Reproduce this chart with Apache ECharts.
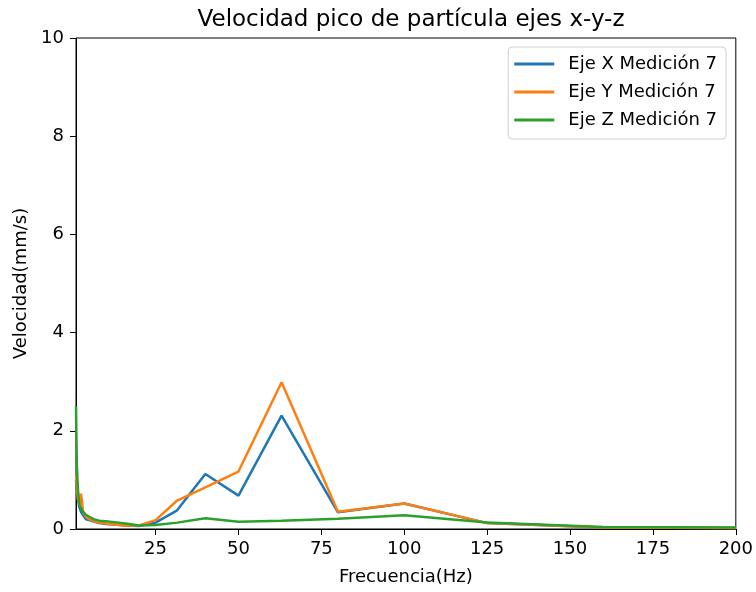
<!DOCTYPE html>
<html>
<head>
<meta charset="utf-8">
<script src="https://cdn.jsdelivr.net/npm/echarts@6/dist/echarts.min.js"></script>
<style>html,body{margin:0;padding:0;background:#fff}#c{width:756px;height:592px}</style>
</head>
<body>
<div id="c"></div>
<script>
var freqs = [1, 1.25, 1.6, 2, 2.5, 3.15, 4, 5, 6.3, 8, 10, 12.5, 16, 20, 25, 31.5, 40, 50, 63, 80, 100, 125, 160, 200];
var ejeX = [1.0, 0.85, 0.6, 0.45, 0.35, 0.28, 0.2, 0.18, 0.15, 0.12, 0.1, 0.09, 0.07, 0.06, 0.13, 0.38, 1.12, 0.68, 2.31, 0.34, 0.52, 0.12, 0.03, 0.02];
var ejeY = [1.1, 0.9, 0.6, 0.5, 0.72, 0.35, 0.25, 0.2, 0.16, 0.13, 0.11, 0.09, 0.07, 0.07, 0.18, 0.58, 0.85, 1.17, 2.99, 0.35, 0.52, 0.12, 0.03, 0.02];
var ejeZ = [2.5, 1.3, 0.8, 0.5, 0.42, 0.35, 0.29, 0.25, 0.2, 0.17, 0.16, 0.14, 0.11, 0.07, 0.08, 0.13, 0.22, 0.15, 0.17, 0.21, 0.28, 0.13, 0.04, 0.03];
var seriesNames = ['Eje X Medición 7', 'Eje Y Medición 7', 'Eje Z Medición 7'];
var xTicks = [25, 50, 75, 100, 125, 150, 175, 200];
var colors = ['#1f77b4', '#ff7f0e', '#2ca02c'];

function pairs(v){ return freqs.map(function(f,i){ return [f, v[i]]; }); }
var font = 'DejaVu Sans';
var chart = echarts.init(document.getElementById('c'), null, {renderer:'canvas'});
chart.setOption({
  animation:false,
  backgroundColor:'#fff',
  title:{text:'Velocidad pico de partícula ejes x-y-z', left:406, textAlign:'center', top:4,
    textStyle:{fontFamily:font, fontSize:23, fontWeight:'normal', color:'#000'}},
  grid:{left:76, right:20, top:38, bottom:63, show:true, borderColor:'#000', borderWidth:1, backgroundColor:'transparent'},
  legend:{orient:'vertical', right:30, top:47, icon:'rect', itemWidth:40, itemHeight:3, itemGap:8,
    borderColor:'#d0d0d0', borderWidth:1, borderRadius:4, padding:[7,9,9,6],
    textStyle:{fontFamily:font, fontSize:18, color:'#000', lineHeight:20, padding:[0,0,0,9]},
    data:seriesNames},
  xAxis:{type:'value', min:1, max:200, name:'Frecuencia(Hz)', nameLocation:'middle', nameGap:39,
    nameTextStyle:{fontFamily:font, fontSize:18, color:'#000'},
    splitLine:{show:false},
    axisLine:{show:true, onZero:false, lineStyle:{color:'#000', width:1}},
    axisTick:{show:true, length:6, inside:false, customValues:xTicks, lineStyle:{color:'#000'}},
    axisLabel:{fontFamily:font, fontSize:18, color:'#000', margin:11, customValues:xTicks}},
  yAxis:{type:'value', min:0, max:10, interval:2, name:'Velocidad(mm/s)', nameLocation:'middle', nameGap:40,
    nameTextStyle:{fontFamily:font, fontSize:18, color:'#000'},
    splitLine:{show:false},
    axisLine:{show:true, lineStyle:{color:'#000', width:1}},
    axisTick:{show:true, length:6, lineStyle:{color:'#000'}},
    axisLabel:{fontFamily:font, fontSize:18, color:'#000', margin:12}},
  series:[ejeX, ejeY, ejeZ].map(function(v,i){
    return {name:seriesNames[i], type:'line', data:pairs(v), symbol:'none', color:colors[i],
      itemStyle:{color:colors[i]},
      lineStyle:{width:2.5, color:colors[i]}, z:2+i};
  })
});
</script>
</body>
</html>
